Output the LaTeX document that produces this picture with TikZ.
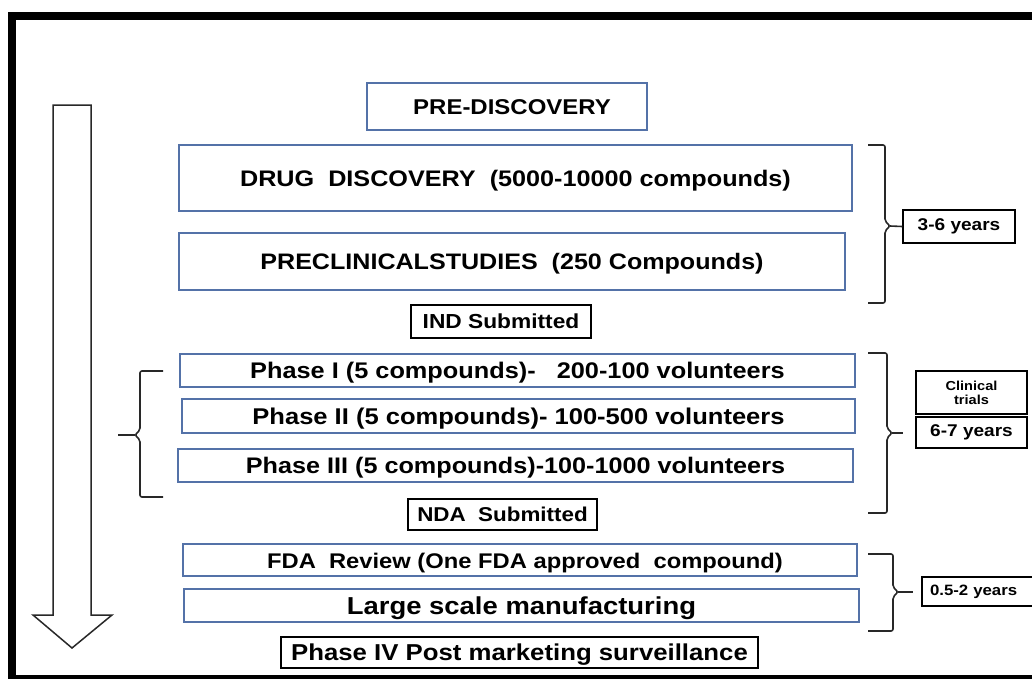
\documentclass[tikz,border=0pt]{standalone}
\usepackage{fontspec}
\setmainfont{Liberation Sans}[FakeStretch=1.12]
\definecolor{boxblue}{RGB}{84,114,168}
\definecolor{linegray}{RGB}{40,40,40}
\begin{document}
\begin{tikzpicture}[x=1pt, y=-1pt,
  bluebox/.style={draw=boxblue, line width=1.6pt, inner sep=0pt, text height=16pt, text depth=0pt, font=\bfseries\fontsize{22.5}{24}\selectfont},
  blackbox/.style={draw=black, line width=1.4pt, inner sep=0pt, text height=14.5pt, text depth=0pt, font=\bfseries\fontsize{20}{22}\selectfont},
  yearbox/.style={draw=black, line width=1.4pt, inner sep=0pt, font=\bfseries\fontsize{17}{19}\selectfont},
  bracket/.style={draw=linegray, line width=1.6pt, rounded corners=2pt}]
\useasboundingbox (0,0) rectangle (1032,678);
\clip (0,0) rectangle (1032,678);
% frame
\draw[line width=8pt] (1045,16) -- (12,16) -- (12,679) -- (1045,679);
% time arrow
\draw[line width=1.5pt, draw=linegray] (53,105) -- (91,105) -- (91,615) -- (112,615) -- (72,648) -- (33,615) -- (53,615) -- cycle;
% stages
\node[bluebox, minimum width=280pt, minimum height=47pt, text height=15pt, font=\bfseries\fontsize{21.4}{23}\selectfont] (pre) at (507,106.5) {\hspace*{10pt}PRE-DISCOVERY};
\node[bluebox, minimum width=673pt, minimum height=66pt] (drug) at (515.5,178) {DRUG\ \ DISCOVERY\ \ (5000-10000 compounds)};
\node[bluebox, minimum width=666pt, minimum height=57pt, font=\bfseries\fontsize{22.4}{24}\selectfont] (precl) at (512,261.5) {PRECLINICALSTUDIES\ \ (250 Compounds)};
\node[blackbox, minimum width=180pt, minimum height=33pt, font=\bfseries\fontsize{20.3}{22}\selectfont] (ind) at (501,321.5) {IND Submitted};
\node[bluebox, minimum width=675pt, minimum height=33pt, font=\bfseries\fontsize{22.6}{25}\selectfont] (ph1) at (517.5,370.5) {Phase I (5 compounds)-\ \ \ 200-100 volunteers};
\node[bluebox, minimum width=673pt, minimum height=34pt, font=\bfseries\fontsize{22.8}{25}\selectfont] (ph2) at (518.5,416) {Phase II (5 compounds)- 100-500 volunteers};
\node[bluebox, minimum width=675pt, minimum height=33pt] (ph3) at (515.5,465.5) {Phase III (5 compounds)-100-1000 volunteers};
\node[blackbox, minimum width=189pt, minimum height=31pt] (nda) at (502.5,514.5) {NDA\ \ Submitted};
\node[bluebox, minimum width=674pt, minimum height=32pt, font=\bfseries\fontsize{21.2}{23}\selectfont] (fda) at (520,560) {\hspace*{10pt}FDA\ \ Review (One FDA approved\ \ compound)};
\node[bluebox, minimum width=675pt, minimum height=33pt, text height=17pt, font=\bfseries\fontsize{24.5}{26}\selectfont] (large) at (521.5,605.5) {Large scale manufacturing};
\node[blackbox, minimum width=477pt, minimum height=31pt, text height=16pt, font=\bfseries\fontsize{23}{25}\selectfont] (ph4) at (519.5,652.5) {Phase IV Post marketing surveillance};
% durations
\node[yearbox, minimum width=112pt, minimum height=33pt] (yrs1) at (959,226.5) {3-6 years};
\node[yearbox, minimum width=111pt, minimum height=43pt, align=center, font=\bfseries\fontsize{13}{14}\selectfont] (clin) at (971.5,392.5) {Clinical\\trials};
\node[yearbox, minimum width=111pt, minimum height=31pt] (yrs2) at (971.5,432.5) {6-7 years};
\node[yearbox, text width=102pt, align=left, inner xsep=8pt, minimum height=29pt, font=\bfseries\fontsize{15}{17}\selectfont] (yrs3) at (981,591.5) {0.5-2 years};
% brackets
\coordinate (tip1) at (890,226);
\coordinate (tip2) at (892,433);
\coordinate (tip3) at (898,592);
\coordinate (tipL) at (135,435);
\coordinate (end2) at (903,433);
\coordinate (end3) at (913,592);
\coordinate (endL) at (118,435);
\draw[bracket] (868,145) -- (885,145) -- (885,221) -- (tip1) -- (885,231) -- (885,303) -- (868,303);
\draw[bracket] (868,353) -- (887,353) -- (887,428) -- (tip2) -- (887,438) -- (887,513) -- (868,513);
\draw[bracket] (868,554) -- (893,554) -- (893,587) -- (tip3) -- (893,597) -- (893,631) -- (868,631);
\draw[bracket] (163,371) -- (140,371) -- (140,430) -- (tipL) -- (140,440) -- (140,497) -- (163,497);
\draw[linegray, line width=1.6pt] (tip1) -- (yrs1.west);
\draw[linegray, line width=1.6pt] (tip2) -- (end2);
\draw[linegray, line width=1.6pt] (tip3) -- (end3);
\draw[linegray, line width=1.6pt] (tipL) -- (endL);
\end{tikzpicture}
\end{document}
